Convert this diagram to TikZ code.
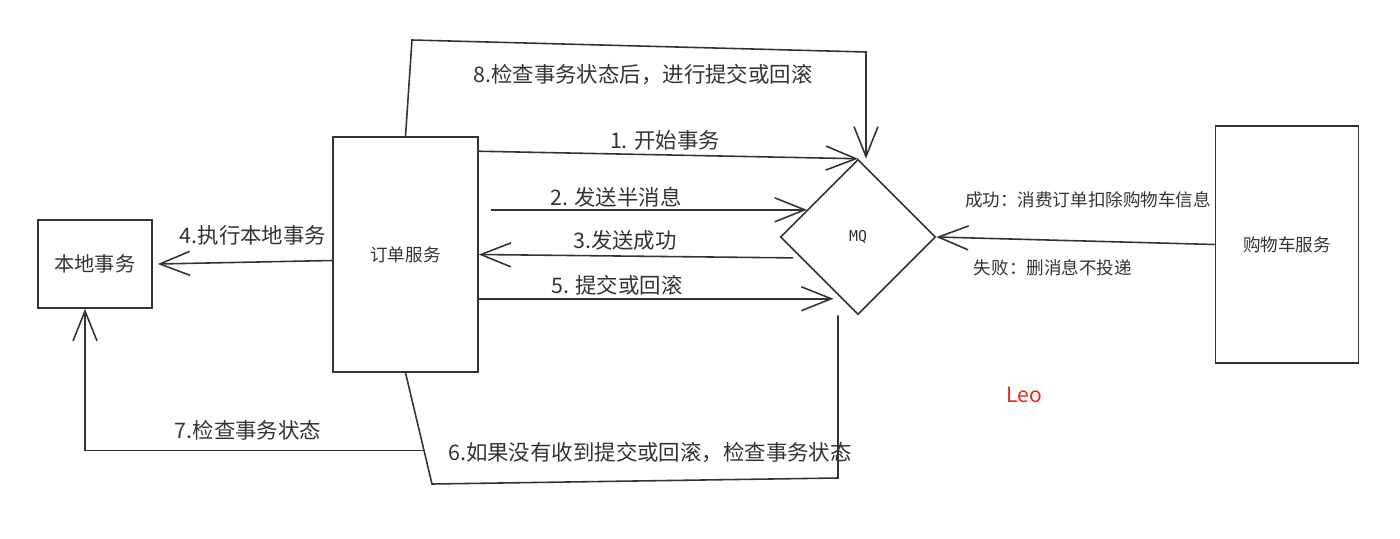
\documentclass[tikz,border=0pt]{standalone}
\usepackage{fontspec}
\setmainfont{Noto Sans CJK SC}
\setmonofont{DejaVu Sans Mono}
\usepackage{xcolor}
\usetikzlibrary{arrows.meta,shapes.geometric,calc}
\definecolor{ink}{HTML}{333333}
\definecolor{leored}{HTML}{E8281E}
\tikzset{
box/.style={
draw=ink,
line width=0.9pt,
align=center,
inner sep=0pt,
text=ink,
font=\fontsize{10}{12}\selectfont
},
mqbox/.style={
draw=ink,
line width=0.9pt,
diamond,
aspect=1,
inner sep=0pt,
minimum width=3.1cm,
minimum height=3.1cm,
text=ink,
font=\ttfamily\fontsize{8.5}{10}\selectfont
},
lbl/.style={
text=ink,
inner sep=1pt,
font=\fontsize{12.2}{14}\selectfont
},
note/.style={
text=ink,
inner sep=1pt,
font=\fontsize{10}{12}\selectfont
},
arrow/.style={
-{Straight Barb[length=6mm,width=4.8mm]},
line width=0.9pt,
draw=ink
},
link/.style={
line width=0.9pt,
draw=ink
}
}

\begin{document}
\begin{tikzpicture}[x=0.02cm,y=-0.02cm]

\useasboundingbox (0,0) rectangle (1400,538);

% boxes
\node[box,minimum width=2.28cm,minimum height=1.76cm,font=\fontsize{11.5}{13}\selectfont](local) at (95,264){本地事务};

\node[box,minimum width=2.9cm,minimum height=4.7cm](order) at (405.5,254.5){订单服务};

\node[mqbox](mq) at (858,237){MQ};

\node[box,minimum width=2.86cm,minimum height=4.74cm](cart) at (1287,244.5){购物车服务};

% corner points of the long lines
\coordinate (c8a) at (412,40);
\coordinate (c8b) at (866,52);
\coordinate (c6a) at (432,484);
\coordinate (c6b) at (838,478);
\coordinate (c7) at ($(order.south)!0.7!(c6a)$);

% messages between order service and MQ
\draw[arrow]([yshift=-3mm]order.north east)--(mq.north);

\draw[arrow]([xshift=2.4mm]order.east |- mq.152)--(mq.152);

\draw[arrow]([xshift=-1.5mm]mq.200)--(order.east);

\draw[arrow](order.east |- mq.255)--([xshift=-1.6mm]mq.255);

\draw[arrow]([yshift=-1.2mm]order.west)--([xshift=1mm]local.east);

\draw[arrow](cart.west)--(mq.east);

\draw[arrow](order.north)--(c8a)--(c8b)--([xshift=1.6mm]mq.north);

\draw[link](order.south)--(c6a)--(c6b)--([xshift=-4mm]mq.south);

\draw[arrow](c7)-|([xshift=-2mm]local.south);

% labels
\node[lbl](l8) at (643,75){8.检查事务状态后，进行提交或回滚};

\node[lbl](l1) at (665,140){1. 开始事务};

\node[lbl](l2) at (616,197){2. 发送半消息};

\node[lbl](l3) at (625,240){3.发送成功};

\node[lbl](l5) at (617,285){5. 提交或回滚};

\node[lbl](l4) at (253,235){4.执行本地事务};

\node[lbl](l7) at (248,430){7.检查事务状态};

\node[lbl](l6) at (650,453){6.如果没有收到提交或回滚，检查事务状态};

\node[note](ok) at (1088,200){成功：消费订单扣除购物车信息};

\node[note](fail) at (1053,268){失败：删消息不投递};

\node[text=leored,font=\fontsize{12}{14}\selectfont](leo) at (1024,395){Leo};

\end{tikzpicture}
\end{document}
